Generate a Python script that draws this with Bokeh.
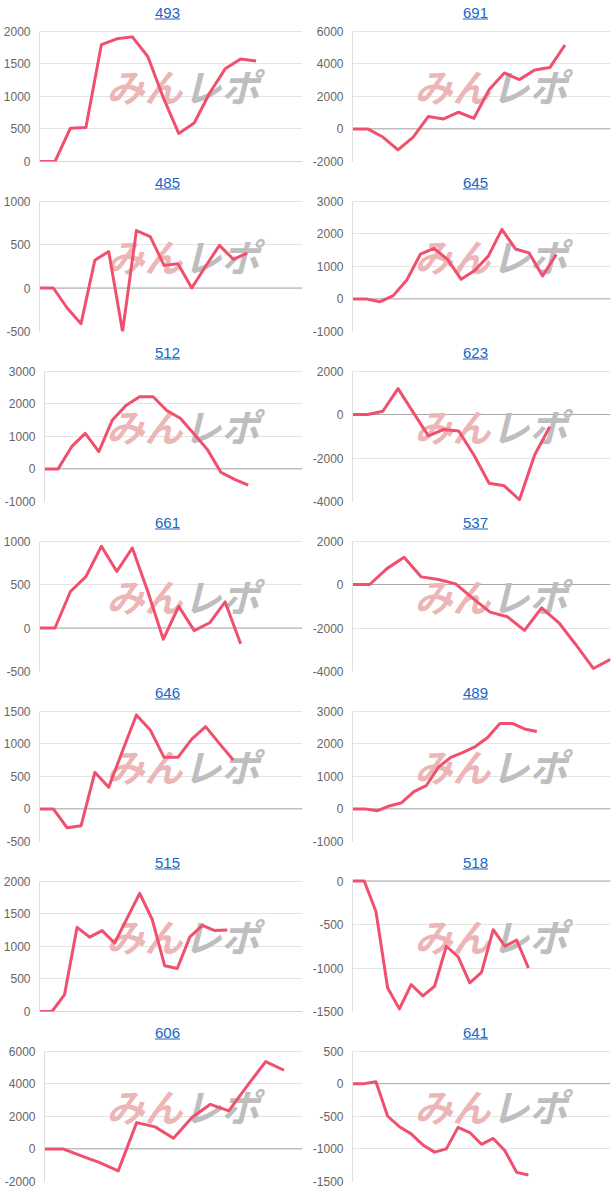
from bokeh.plotting import figure
from bokeh.layouts import column, row
from bokeh.models import Range1d, FixedTicker, Span
from bokeh.core.properties import value
from bokeh.embed import file_html
from bokeh.resources import INLINE

titles = ["493", "691", "485", "645", "512", "623", "661",
          "537", "646", "489", "515", "518", "606", "641"]

s493 = [0, 0, 510, 520, 1790, 1880, 1910, 1610, 980, 430, 590, 1050, 1420, 1570, 1540]
s691 = [0, 0, -500, -1290, -500, 760, 610, 1020, 650, 2400, 3430, 3020, 3610, 3760, 5140]
s485 = [0, 0, -230, -410, 320, 420, -500, 660, 590, 260, 280, 0, 250, 490, 330, 400]
s645 = [0, 0, -90, 100, 580, 1370, 1550, 1210, 600, 870, 1310, 2130, 1530, 1410, 700, 1360]
s512 = [0, 0, 680, 1090, 530, 1500, 1940, 2210, 2210, 1790, 1550, 1080, 590, -110, -320, -500]
s623 = [0, 0, 150, 1190, 100, -980, -690, -760, -1860, -3160, -3280, -3920, -1860, -560]
s661 = [0, 0, 420, 590, 940, 650, 920, 420, -130, 250, -30, 60, 300, -180]
s537 = [0, 0, 730, 1250, 350, 230, 30, -640, -1270, -1480, -2110, -1070, -1760, -2780, -3860, -3440]
s646 = [0, 0, -290, -260, 560, 330, 890, 1440, 1210, 790, 790, 1070, 1260, 1000, 750]
s489 = [0, 0, -60, 90, 190, 530, 710, 1280, 1580, 1730, 1910, 2190, 2620, 2620, 2450, 2370]
s515 = [0, 0, 260, 1290, 1140, 1240, 1050, 1430, 1810, 1410, 700, 660, 1140, 1320, 1240, 1250]
s518 = [0, 0, -350, -1230, -1470, -1190, -1320, -1210, -750, -870, -1170, -1050, -560, -750, -680, -1000]
s606 = [0, 0, -430, -840, -1350, 1610, 1350, 650, 1920, 2730, 2330, 3860, 5350, 4820]
s641 = [0, 0, 30, -500, -660, -770, -940, -1050, -1000, -670, -750, -930, -840, -1030, -1360, -1400]

series = [s493, s691, s485, s645, s512, s623, s661,
          s537, s646, s489, s515, s518, s606, s641]

y_ticks = [
    [0, 500, 1000, 1500, 2000],
    [-2000, 0, 2000, 4000, 6000],
    [-500, 0, 500, 1000],
    [-1000, 0, 1000, 2000, 3000],
    [-1000, 0, 1000, 2000, 3000],
    [-4000, -2000, 0, 2000],
    [-500, 0, 500, 1000],
    [-4000, -2000, 0, 2000],
    [-500, 0, 500, 1000, 1500],
    [-1000, 0, 1000, 2000, 3000],
    [0, 500, 1000, 1500, 2000],
    [-1500, -1000, -500, 0],
    [-2000, 0, 2000, 4000, 6000],
    [-1500, -1000, -500, 0, 500],
]

x_extent = [17, 17, 19, 19, 19, 17, 17, 15, 19, 21, 21, 22, 14, 22]

# ---- styling / layout constants ----
PW, PH = 308, 170
RIGHT_B, BOTTOM_B = 6, 9
TOP_TICK_PX = 30.5
LINE_COLOR = "#f0506e"
LINK_COLOR = "#1a66c2"
FONT = "Liberation Sans"
LOGO_FONT = "Noto Sans CJK JP"


def make_panel(title, ys, ticks, xmax):
    long_lbl = max(len(str(t)) for t in ticks) >= 5
    left_b = 44 if long_lbl else 39
    fw = PW - left_b - RIGHT_B
    fh = PH - BOTTOM_B
    ymin, ymax = min(ticks), max(ticks)
    span = ymax - ymin
    y_end = ymax + TOP_TICK_PX / (fh - TOP_TICK_PX) * span

    def ydat(py):
        return y_end - py / fh * (y_end - ymin)

    def xdat(px):
        return (px - left_b) / fw * xmax

    p = figure(width=PW, height=PH, x_range=Range1d(0, xmax),
               y_range=Range1d(ymin, y_end), x_axis_location=None,
               toolbar_location=None, tools="", output_backend="svg",
               min_border_left=left_b, min_border_right=RIGHT_B,
               min_border_top=0, min_border_bottom=BOTTOM_B,
               outline_line_color=None, background_fill_color="white",
               border_fill_color="white")
    p.xgrid.visible = False
    p.ygrid.grid_line_color = "#e4e4e4"
    p.ygrid.grid_line_width = 1
    ax = p.yaxis[0]
    ax.ticker = FixedTicker(ticks=ticks, minor_ticks=[])
    ax.major_label_overrides = {t: str(t) for t in ticks}
    ax.major_tick_line_color = None
    ax.minor_tick_line_color = None
    ax.major_tick_out = 0
    ax.major_tick_in = 0
    ax.minor_tick_out = 0
    ax.axis_line_color = "#dedede"
    ax.bounds = (ymin, ymax)
    ax.major_label_standoff = 9
    ax.major_label_text_font = FONT
    ax.major_label_text_font_size = "12px"
    ax.major_label_text_color = "#666666"

    p.add_layout(Span(location=0, dimension="width", line_color="#a9a9a9",
                      line_width=1, level="underlay"))

    # watermark logo
    p.text(x=[xdat(182)], y=[ydat(85)], text=["みん"],
           text_font=value(LOGO_FONT), text_font_style="bold italic",
           text_font_size="38px", text_color="#ecb6b6",
           text_align="right", text_baseline="middle")
    p.text(x=[xdat(183)], y=[ydat(85)], text=["レポ"],
           text_font=value(LOGO_FONT), text_font_style="bold italic",
           text_font_size="38px", text_color="#bebebe",
           text_align="left", text_baseline="middle")

    xs = list(range(len(ys)))
    p.line(xs, ys, line_color=LINE_COLOR, line_width=3, line_join="round")

    # title link
    cx = 167
    p.text(x=[xdat(cx)], y=[ydat(12)], text=[title],
           text_font=value(FONT), text_font_size="15px",
           text_color=LINK_COLOR, text_align="center", text_baseline="middle")
    w = len(title) * 8.34
    p.segment(x0=[xdat(cx - w / 2)], x1=[xdat(cx + w / 2)],
              y0=[ydat(18.5)], y1=[ydat(18.5)], line_color=LINK_COLOR,
              line_width=1)
    return p


panels = [make_panel(t, s, tk, xm)
          for t, s, tk, xm in zip(titles, series, y_ticks, x_extent)]
layout = column([row(panels[i:i + 2], spacing=0) for i in range(0, len(panels), 2)],
                spacing=0)

open("out.html", "w").write(file_html(layout, INLINE))
